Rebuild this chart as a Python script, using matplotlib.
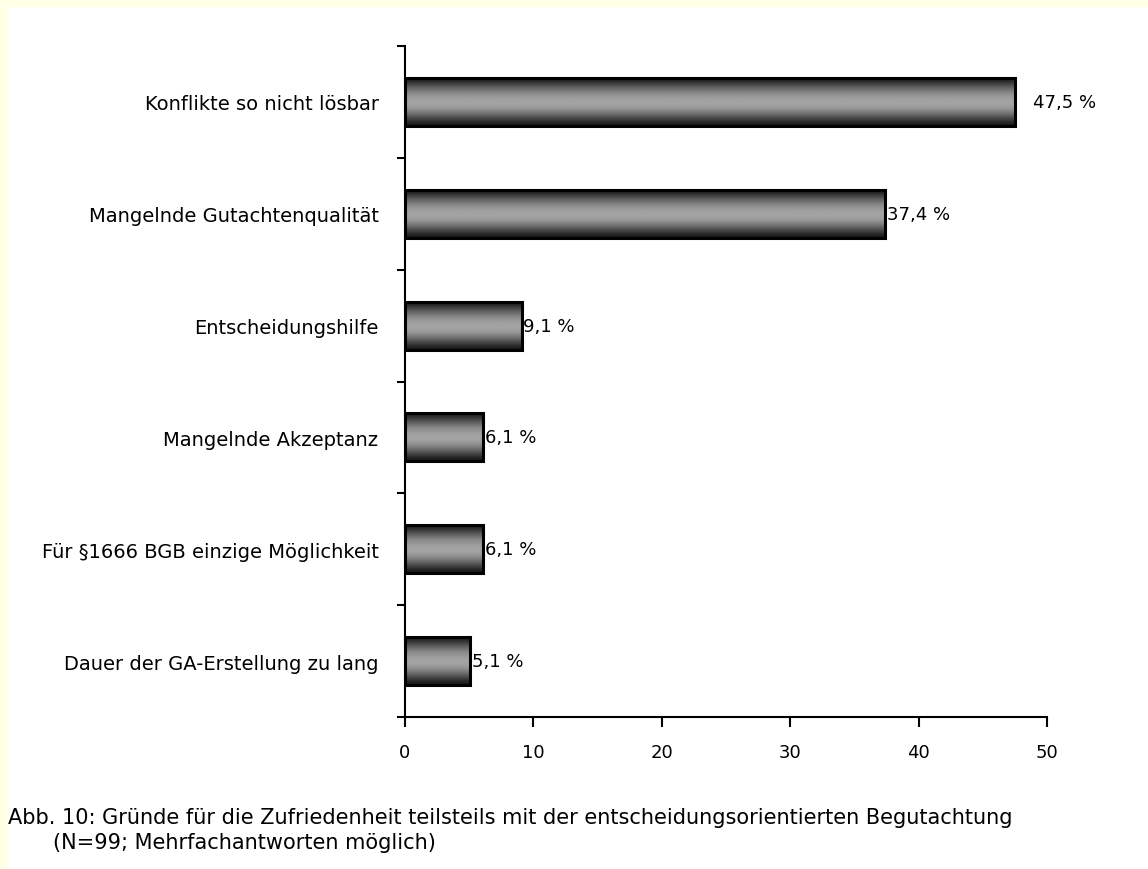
import numpy as np
import matplotlib.pyplot as plt
from matplotlib.patches import Rectangle

categories = ['Konflikte so nicht lösbar', 'Mangelnde Gutachtenqualität', 'Entscheidungshilfe',
              'Mangelnde Akzeptanz', 'Für §1666 BGB einzige Möglichkeit', 'Dauer der GA-Erstellung zu lang']
values = [47.5, 37.4, 9.1, 6.1, 6.1, 5.1]
value_labels = ['47,5 %', '37,4 %', '9,1 %', '6,1 %', '6,1 %', '5,1 %']
xticks = [0, 10, 20, 30, 40, 50]
caption = 'Abb. 10: Gründe für die Zufriedenheit teilsteils mit der entscheidungsorientierten Begutachtung'
caption2 = '(N=99; Mehrfachantworten möglich)'

plt.rcParams['font.family'] = ['DejaVu Sans']

fig = plt.figure(figsize=(11.48, 8.7), dpi=100)
fig.patch.set_facecolor('white')
# pale yellow frame on top and left
fig.patches.append(Rectangle((0, 1 - 7 / 870), 1, 7 / 870, transform=fig.transFigure, color='#ffffe6', zorder=0))
fig.patches.append(Rectangle((0, 0), 7 / 1148, 1, transform=fig.transFigure, color='#ffffe6', zorder=0))

ax = fig.add_axes([405 / 1148, 1 - 718 / 870, (1047 - 405) / 1148, (718 - 47) / 870])

# vertical gray shading of the bars: dark edges, light middle
shade = np.array([0.1, 0.15, 0.22, 0.3, 0.38, 0.45, 0.52, 0.57, 0.6, 0.63, 0.64, 0.64, 0.62, 0.58,
                  0.52, 0.45, 0.38, 0.3, 0.22, 0.15, 0.1]).reshape(-1, 1)

h = 0.43
pos = np.arange(len(values))
bars = ax.barh(pos, values, height=h, color='none', edgecolor='black', linewidth=2.2, zorder=3)
for b, p, v in zip(bars, pos, values):
    im = ax.imshow(shade, extent=[0, v, p + h / 2, p - h / 2], aspect='auto', cmap='gray',
                   vmin=0, vmax=1, zorder=2, interpolation='bilinear')
    im.set_clip_path(b)

for i, (p, v, lab) in enumerate(zip(pos, values, value_labels)):
    off = 13 if i == 0 else 1
    ax.annotate(lab, (v, p), xytext=(off, 0), textcoords='offset points', va='center', ha='left', fontsize=13)

ax.set_xlim(0, 50)
ax.set_ylim(len(values) - 0.5, -0.5)
ax.set_xticks(xticks)
ax.set_xticklabels([str(t) for t in xticks], fontsize=13)
ax.set_yticks(pos)
ax.set_yticklabels(categories, fontsize=14)
ax.tick_params(axis='y', length=0, pad=19)
ax.set_yticks(np.arange(-0.5, len(values)), minor=True)
ax.tick_params(axis='y', which='minor', length=6, width=1.5)
ax.tick_params(axis='x', length=7, width=1.5, pad=12)
for s in ['top', 'right']:
    ax.spines[s].set_visible(False)
for s in ['left', 'bottom']:
    ax.spines[s].set_linewidth(1.5)
ax.set_facecolor('white')

fig.text(8 / 1148, 1 - 818 / 870, caption, fontsize=15, va='center', ha='left')
fig.text(53 / 1148, 1 - 843 / 870, caption2, fontsize=15, va='center', ha='left')

fig.savefig('out.png', dpi=100)
